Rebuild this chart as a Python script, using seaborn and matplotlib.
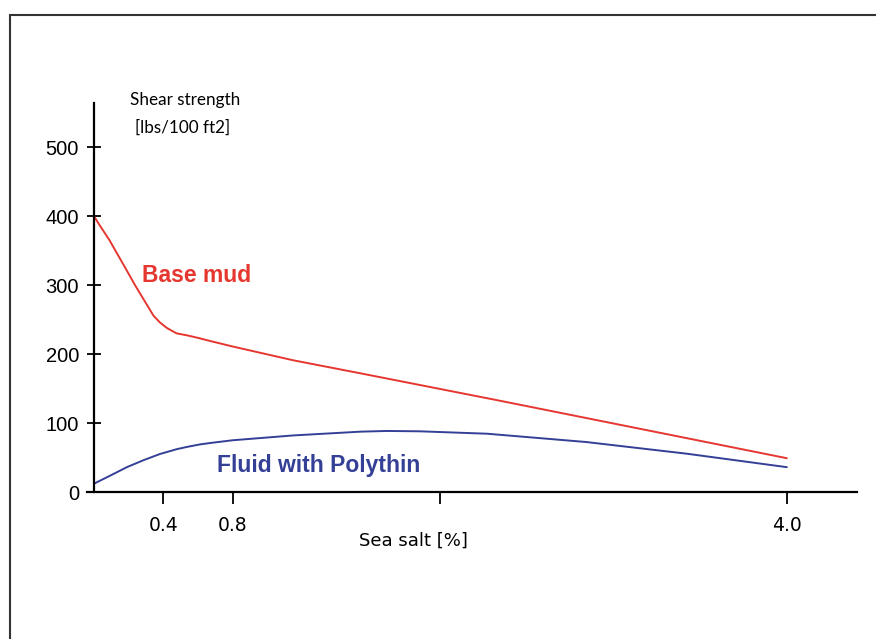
import pandas as pd
import matplotlib.pyplot as plt
import seaborn as sns
from matplotlib.patches import Rectangle

# values
base_salt = [0.0, 0.035, 0.09, 0.14, 0.19, 0.237, 0.29, 0.343, 0.38, 0.42, 0.477,
             0.54, 0.60, 0.67, 0.80, 1.15, 1.54, 2.33, 4.0]
base_shear = [400, 386, 365, 343, 321, 300, 278, 256, 246, 238, 230,
              227, 223.5, 219, 211, 191, 172, 133, 49]

poly_salt = [0.0, 0.096, 0.19, 0.285, 0.38, 0.477, 0.54, 0.612, 0.67, 0.80, 1.15,
             1.54, 1.69, 1.88, 2.27, 2.84, 3.42, 4.0]
poly_shear = [12, 24, 36, 46, 55, 62, 65.5, 69, 71, 75, 82,
              87.5, 88.5, 88, 84.5, 72.5, 55.6, 36]

x_ticks = [0.4, 0.8, 2.0, 4.0]
x_tick_labels = ['0.4', '0.8', '', '4.0']
y_ticks = [0, 100, 200, 300, 400, 500]

df = pd.concat([
    pd.DataFrame({'salt': base_salt, 'shear': base_shear, 'fluid': 'Base mud'}),
    pd.DataFrame({'salt': poly_salt, 'shear': poly_shear, 'fluid': 'Fluid with Polythin'}),
])
colors = {'Base mud': '#e5372f', 'Fluid with Polythin': '#343f96'}

sns.set_style('white')
fig = plt.figure(figsize=(8.76, 6.39), dpi=100)
ax = fig.add_axes([87 / 876, 147 / 639, 770 / 876, 389 / 639])

sns.lineplot(data=df, x='salt', y='shear', hue='fluid', palette=colors,
             linewidth=1.4, legend=False, ax=ax, sort=False)

ax.set_xlim(-0.04, 4.405)
ax.set_ylim(0, 564)
ax.spines['left'].set_position(('data', 0))
ax.spines['top'].set_visible(False)
ax.spines['right'].set_visible(False)
for s in ['left', 'bottom']:
    ax.spines[s].set_color('black')
    ax.spines[s].set_linewidth(1.6)

ax.set_xticks(x_ticks)
ax.set_xticklabels(x_tick_labels, fontfamily='DejaVu Sans', fontsize=13.5, color='black')
ax.set_yticks(y_ticks)
ax.set_yticklabels([str(v) for v in y_ticks], fontfamily='Liberation Sans', fontsize=14.5,
                   color='black')
ax.tick_params(axis='x', direction='out', length=8.6, width=1.3, pad=9, color='black', bottom=True)
ax.tick_params(axis='y', direction='inout', length=9.5, width=1.3, pad=6, color='black', left=True)
ax.set_xlabel('')
ax.set_ylabel('')

ax.text(0.275, 314, 'Base mud', color='#e5372f', fontsize=16.5, fontweight='bold',
        fontfamily='Liberation Sans', va='center', ha='left')
ax.text(0.708, 38.7, 'Fluid with Polythin', color='#343f96', fontsize=16.5, fontweight='bold',
        fontfamily='Liberation Sans', va='center', ha='left')

fig.text(185 / 876, 1 - 100 / 639, 'Shear strength', fontfamily='Lato', fontsize=12.3,
         ha='center', va='center', color='black')
fig.text(183 / 876, 1 - 128 / 639, '[lbs/100 ft2]', fontfamily='Lato', fontsize=12.3,
         ha='center', va='center', color='black')
fig.text(413 / 876, 1 - 541 / 639, 'Sea salt [%]', fontfamily='DejaVu Sans', fontsize=13,
         ha='center', va='center', color='black')

# outer frame (only left and top edges visible in the original)
fig.add_artist(Rectangle((10 / 876, -0.1), 1.2, 1.1 - 15 / 639,
                         transform=fig.transFigure, fill=False, edgecolor='#333333', linewidth=1.5))

fig.savefig('out.png', dpi=100)
